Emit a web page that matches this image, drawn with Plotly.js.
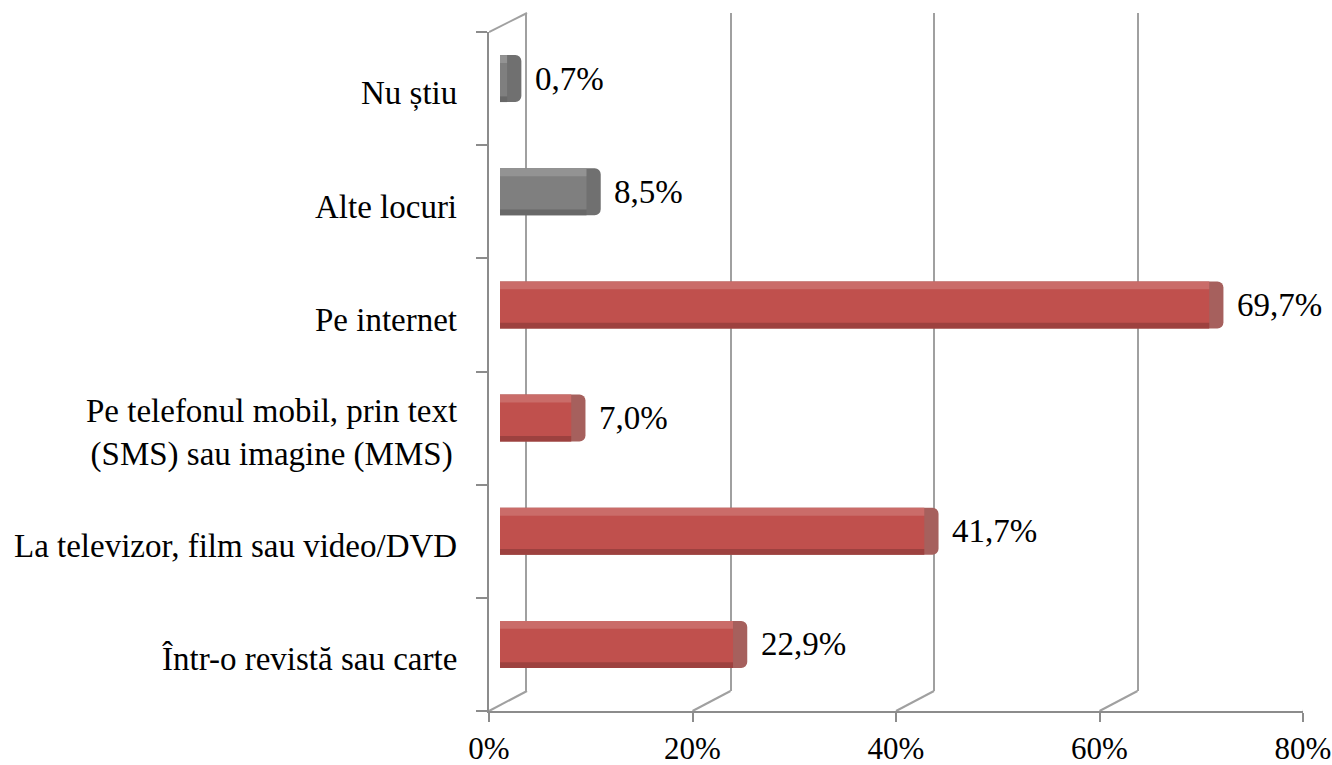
<!DOCTYPE html>
<html>
<head>
<meta charset="utf-8">
<script src="https://cdn.plot.ly/plotly-3.0.1.min.js"></script>
<style>html,body{margin:0;padding:0;background:#fff;}#chart{width:1332px;height:765px;}</style>
</head>
<body>
<div id="chart"></div>
<script>
// ---- data (bottom to top) ----
const categories = [
  "Într-o revistă sau carte",
  "La televizor, film sau video/DVD",
  "Pe telefonul mobil, prin text<br>(SMS) sau imagine (MMS)",
  "Pe internet",
  "Alte locuri",
  "Nu știu"
];
const values = [22.9, 41.7, 7.0, 69.7, 8.5, 0.7];
const groups = ["media", "media", "media", "media", "other", "other"];
const xTickValues = [0, 20, 40, 60, 80];
const xTickLabels = ["0%", "20%", "40%", "60%", "80%"];

// ---- styles ----
const W = 1332, H = 765;
const faceColor = {media: "#C0504D", other: "#7F7F7F"};
const capColor = {media: "#A6605D", other: "#707070"};
const gridColor = "#A0A0A0";
const axisColor = "#8C8C8C";
const FONT = "Liberation Serif, Times New Roman, serif";
const FS = 33;
const barW = 0.415;
const capDepth = 1.4; // visual depth of the bar end face, in axis units
const labelText = values.map(v => v.toFixed(1).replace(".", ",") + "%");

const px = p => p / W;
const py = p => 1 - p / H;

const traces = [
  // back wall subplot placeholder
  {type: "scatter", x: [0], y: [0], xaxis: "x", yaxis: "y", mode: "markers",
   marker: {opacity: 0}, hoverinfo: "skip", showlegend: false},
  // front axes placeholder
  {type: "scatter", x: values.map(() => 0), y: categories, xaxis: "x2", yaxis: "y2",
   mode: "markers", marker: {opacity: 0}, hoverinfo: "skip", showlegend: false},
  // end caps (drawn under the face, only the part beyond the value shows)
  {type: "bar", orientation: "h", x: values.map(v => v + capDepth), y: categories,
   xaxis: "x3", yaxis: "y3", width: barW,
   marker: {color: groups.map(g => capColor[g]), line: {width: 0}, cornerradius: 6},
   hoverinfo: "skip", showlegend: false},
  // bar faces
  {type: "bar", orientation: "h", x: values, y: categories, xaxis: "x3", yaxis: "y3",
   width: barW, marker: {color: groups.map(g => faceColor[g]), line: {width: 0}},
   hoverinfo: "x+y", showlegend: false},
  // bottom shade
  {type: "bar", orientation: "h", x: values, y: categories, xaxis: "x3", yaxis: "y3",
   width: 0.05, offset: -barW / 2,
   marker: {color: "rgba(0,0,0,0.18)", line: {width: 0}}, hoverinfo: "skip", showlegend: false},
  // top highlight
  {type: "bar", orientation: "h", x: values, y: categories, xaxis: "x3", yaxis: "y3",
   width: 0.07, offset: barW / 2 - 0.07,
   marker: {color: "rgba(255,255,255,0.16)", line: {width: 0}}, hoverinfo: "skip", showlegend: false}
];

const shapes = [];
// floor diagonals from each front tick to the back wall
xTickValues.forEach(v => {
  shapes.push({type: "line", xref: "x2", xsizemode: "pixel", xanchor: v, x0: 0, x1: 38,
    yref: "paper", ysizemode: "pixel", yanchor: py(711), y0: 0, y1: 20,
    line: {color: gridColor, width: 2}, layer: "below"});
});
// top-left side-wall diagonal
shapes.push({type: "line", xref: "x2", xsizemode: "pixel", xanchor: 0, x0: 0, x1: 38,
  yref: "paper", ysizemode: "pixel", yanchor: py(32), y0: 0, y1: 19,
  line: {color: gridColor, width: 2}, layer: "below"});

const annotations = values.map((v, i) => ({
  xref: "x3", yref: "y3", x: v, y: categories[i], text: labelText[i],
  xanchor: "left", yanchor: "middle", xshift: 26, showarrow: false,
  font: {family: FONT, size: FS, color: "#000"}
}));
// category labels (centred multi-line, as in the original)
categories.forEach(c => {
  annotations.push({xref: "paper", yref: "y2", x: px(459), y: c, text: c,
    xanchor: "right", yanchor: "middle", yshift: -5, align: "center", showarrow: false,
    font: {family: FONT, size: FS, color: "#000"}});
});

const layout = {
  width: W, height: H,
  margin: {l: 0, r: 0, t: 0, b: 0},
  paper_bgcolor: "#fff", plot_bgcolor: "rgba(0,0,0,0)",
  showlegend: false, barmode: "overlay",
  font: {family: FONT, size: FS, color: "#000"},
  // back wall
  xaxis: {domain: [px(527), 1], range: [0, 80 * 805 / 814], anchor: "y",
    tickvals: [20, 40, 60], showticklabels: false, ticks: "", showgrid: true,
    gridcolor: gridColor, gridwidth: 2, zeroline: false, showline: false, fixedrange: true},
  yaxis: {domain: [py(691), py(13)], range: [0, 1], anchor: "x", showgrid: false,
    zeroline: false, showticklabels: false, ticks: "", showline: true,
    linecolor: gridColor, linewidth: 2, fixedrange: true},
  // front axes
  xaxis2: {domain: [px(489), px(1303)], range: [0, 80], anchor: "y2",
    tickvals: xTickValues, ticktext: xTickLabels, ticks: "outside", ticklen: 9,
    tickcolor: axisColor, tickwidth: 2, showline: true, linecolor: axisColor, linewidth: 2,
    showgrid: false, zeroline: false, fixedrange: true, ticklabelstandoff: 0,
    ticklabeloverflow: "allow",
    tickfont: {family: FONT, size: 31, color: "#000"}},
  yaxis2: {domain: [py(711), py(32)], type: "category", categoryarray: categories,
    categoryorder: "array", range: [-0.5, 5.5], anchor: "x2",
    ticks: "outside", tickson: "boundaries", ticklen: 11, tickcolor: axisColor, tickwidth: 2,
    showline: true, linecolor: axisColor, linewidth: 2, showgrid: false, zeroline: false,
    showticklabels: false, fixedrange: true},
  // bars
  xaxis3: {domain: [px(500), px(1314)], range: [0, 80], anchor: "y3", visible: false, fixedrange: true},
  yaxis3: {domain: [py(701), py(22)], type: "category", categoryarray: categories,
    categoryorder: "array", range: [-0.5, 5.5], anchor: "x3", visible: false, fixedrange: true},
  shapes: shapes,
  annotations: annotations
};

Plotly.newPlot("chart", traces, layout, {displayModeBar: false, staticPlot: true});
</script>
</body>
</html>
